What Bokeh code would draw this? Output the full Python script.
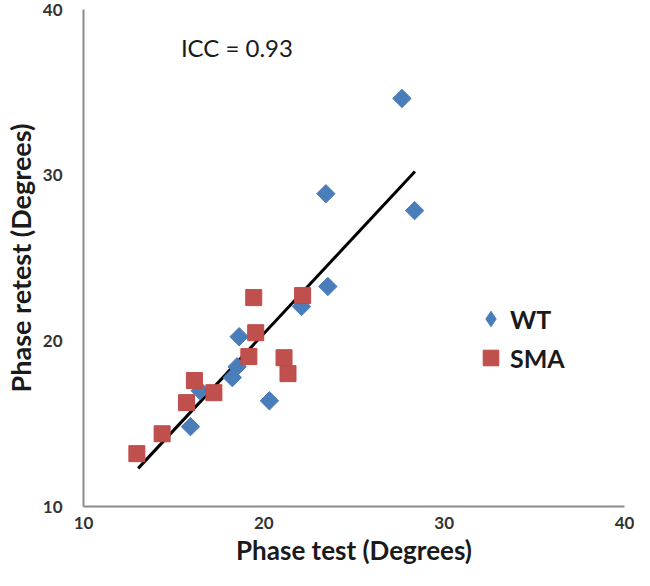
import numpy as np
from bokeh.plotting import figure
from bokeh.models import Range1d, Legend, LegendItem, Label
from bokeh.embed import file_html
from bokeh.resources import INLINE

# ---- data ----
wt_test = [27.66, 23.44, 28.36, 23.55, 22.09, 20.31, 15.93, 16.47, 18.25, 18.52, 18.63]
wt_retest = [34.63, 28.88, 27.86, 23.28, 22.07, 16.38, 14.82, 16.99, 17.78, 18.44, 20.25]

sma_test = [12.96, 14.36, 15.71, 16.15, 17.23, 19.17, 19.55, 19.44, 22.15, 21.12, 21.34]
sma_retest = [13.19, 14.39, 16.27, 17.60, 16.87, 19.05, 20.49, 22.61, 22.73, 18.98, 18.02]

fit_test = [13.03, 28.38]
fit_retest = [12.30, 30.22]

x_ticks = [10, 20, 30, 40]
y_ticks = [10, 20, 30, 40]
icc_text = "ICC = 0.93"
series_names = ["WT", "SMA"]

WT_COLOR = "#4A7EBB"
SMA_COLOR = "#C0504D"
FONT = "Lato"

p = figure(width=634, height=570,
           x_range=Range1d(10, 40), y_range=Range1d(10, 40),
           output_backend="svg", toolbar_location=None,
           min_border_left=75, min_border_right=10,
           min_border_top=9, min_border_bottom=64)

p.grid.visible = False
p.outline_line_color = None
p.background_fill_color = "white"
p.border_fill_color = "white"

# trend line
p.line(fit_test, fit_retest, line_color="black", line_width=3)

# data points
p.scatter(wt_test, wt_retest, marker="square", angle=np.pi / 4, size=13,
          fill_color=WT_COLOR, line_color=WT_COLOR)
p.scatter(sma_test, sma_retest, marker="square", size=16,
          fill_color=SMA_COLOR, line_color="#BE4B48")

# legend proxies (a single NaN point, so nothing is drawn in the plot)
wt_proxy = p.scatter(x=[np.nan], y=[np.nan], marker="diamond",
                     fill_color=WT_COLOR, line_color=WT_COLOR)
sma_proxy = p.scatter(x=[np.nan], y=[np.nan], marker="square",
                      fill_color=SMA_COLOR, line_color="#BE4B48")

legend = Legend(items=[LegendItem(label=series_names[0], renderers=[wt_proxy]),
                       LegendItem(label=series_names[1], renderers=[sma_proxy])],
                location=(388, 129),
                glyph_width=39, glyph_height=39, label_height=39,
                spacing=0, label_standoff=0, padding=0, margin=0,
                border_line_color=None, background_fill_alpha=0,
                label_text_font=FONT, label_text_font_style="bold",
                label_text_font_size="25px", label_text_color="#1a1a1a")
p.add_layout(legend)

# ICC annotation
p.add_layout(Label(x=15.4, y=37.7, text=icc_text, text_font=FONT,
                   text_font_size="24px", text_baseline="middle",
                   text_color="#1a1a1a"))

# axes
for ax in (p.xaxis[0], p.yaxis[0]):
    ax.axis_line_color = "#8c8c8c"
    ax.axis_line_width = 2
    ax.major_tick_line_color = None
    ax.minor_tick_line_color = None
    ax.major_tick_out = 0
    ax.major_tick_in = 0
    ax.minor_tick_out = 0
    ax.minor_tick_in = 0
    ax.major_label_text_font = FONT
    ax.major_label_text_font_style = "bold"
    ax.major_label_text_font_size = "17px"
    ax.major_label_text_color = "#333333"
    ax.axis_label_text_font = FONT
    ax.axis_label_text_font_style = "bold"
    ax.axis_label_text_color = "#1a1a1a"

p.xaxis.ticker = x_ticks
p.yaxis.ticker = y_ticks
p.xaxis.axis_label = "Phase test (Degrees)"
p.yaxis.axis_label = "Phase retest (Degrees)"
p.xaxis.axis_label_text_font_size = "26px"
p.yaxis.axis_label_text_font_size = "27px"
p.xaxis.major_label_standoff = 10
p.xaxis.axis_label_standoff = 2
p.yaxis.major_label_standoff = 21
p.yaxis.axis_label_standoff = 3

open("out.html", "w").write(file_html(p, INLINE))
